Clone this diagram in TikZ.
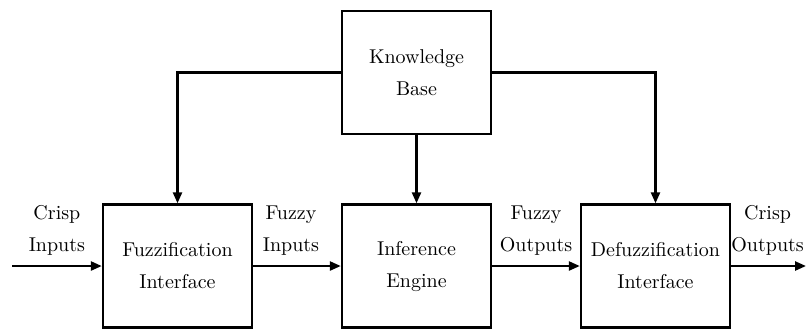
\documentclass[tikz,border=0pt]{standalone}
\usetikzlibrary{shapes,arrows.meta,calc,positioning}

\begin{document}
\begin{tikzpicture}[%
    >={Triangle[length=5.5pt,width=4.5pt]}, % small filled arrow heads
    x=0.5pt, y=-0.5pt,                  % pixel-like units, y going down
    node distance=96.75pt and 119.5pt]  % box spacing (center to center)
% -------------------------------------------------
% Box and connector styles
\tikzset{
  base/.style={draw, on grid, align=center, line width=1.2pt,
    font=\fontsize{10}{16}\selectfont},
  block/.style={base, rectangle, minimum width=74.5pt, minimum height=61.5pt},
  lbl/.style={align=center, inner sep=1pt, font=\fontsize{10}{16}\selectfont},
  flow/.style={->, draw, line width=1.2pt}
}
\useasboundingbox (0,0) rectangle (807,329);
% -------------------------------------------------
% The four boxes
\node [block] (fi) at (177.5,266) {Fuzzification\\Interface};
\node [block, right=of fi] (ie) {Inference\\Engine};
\node [block, right=of ie] (di) {Defuzzification\\Interface};
\node [block, above=of ie] (kb) {Knowledge\\Base};

% free ends of the in/out arrows
\coordinate (cin) at (12,266);
\coordinate (cout) at (806,266);

% -------------------------------------------------
% Left to right flow, labels first
\path (cin) -- node [lbl, above=4pt] (l1) {Crisp\\Inputs} (fi.west);
\path (fi.east) -- node [lbl, above=4pt, xshift=-3pt] (l2) {Fuzzy\\Inputs} (ie.west);
\path (ie.east) -- node [lbl, above=4pt] (l3) {Fuzzy\\Outputs} (di.west);
\path (di.east) -- node [lbl, above=4pt, xshift=-0.5pt] (l4) {Crisp\\Outputs} (cout);
\draw [flow] (cin) -- (fi);
\draw [flow] (fi) -- (ie);
\draw [flow] (ie) -- (di);
\draw [flow] (di) -- (cout);

% -------------------------------------------------
% Knowledge base feeds all three
\draw [flow] (kb) -- (ie);
\draw [flow] (kb.west) -| (fi.north);
\draw [flow] (kb.east) -| (di.north);
% -------------------------------------------------
\end{tikzpicture}
\end{document}
